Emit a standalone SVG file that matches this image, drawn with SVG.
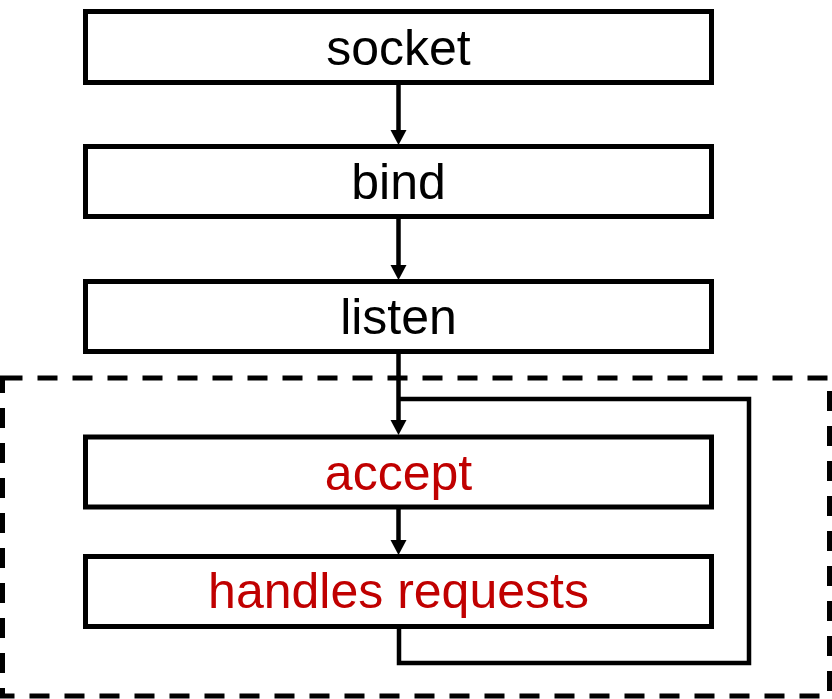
<svg xmlns="http://www.w3.org/2000/svg" width="832" height="699" viewBox="0 0 832 699">
<style>
.box{fill:#fff;stroke:#000;stroke-width:5}
.lbl{font-family:"Liberation Sans",Arial,sans-serif;font-size:50px;text-anchor:middle;fill:#000}
.red{fill:#C00000}
.ln{fill:none;stroke:#000;stroke-width:4.5}
.hd{fill:#000;stroke:none}
.dash{fill:none;stroke:#000;stroke-width:5;stroke-dasharray:20 15}
</style>
<rect class="dash" x="2.5" y="378" width="827" height="318"/>
<g id="connectors">
<line class="ln" x1="398.5" y1="82.5" x2="398.5" y2="132"/>
<polygon class="hd" points="390.5,130 406.5,130 398.5,145"/>
<line class="ln" x1="398.5" y1="216" x2="398.5" y2="267"/>
<polygon class="hd" points="390.5,265 406.5,265 398.5,280"/>
<line class="ln" x1="398.5" y1="352" x2="398.5" y2="422"/>
<polygon class="hd" points="390.5,420 406.5,420 398.5,435"/>
<line class="ln" x1="398.5" y1="507" x2="398.5" y2="542"/>
<polygon class="hd" points="390.5,540 406.5,540 398.5,555"/>
<polyline class="ln" points="399,626 399,663 749,663 749,399 398.5,399"/>
</g>
<g id="socket"><rect class="box" x="85.5" y="11.5" width="626" height="71"/><text class="lbl" x="398.5" y="65">socket</text></g>
<g id="bind"><rect class="box" x="85.5" y="146.5" width="626" height="70"/><text class="lbl" x="398.5" y="199">bind</text></g>
<g id="listen"><rect class="box" x="85.5" y="281.5" width="626" height="70"/><text class="lbl" x="398.5" y="334">listen</text></g>
<g id="accept"><rect class="box" x="85.5" y="437" width="626" height="70"/><text class="lbl red" x="398.5" y="490">accept</text></g>
<g id="handles"><rect class="box" x="85.5" y="556.5" width="626" height="70"/><text class="lbl red" x="398.5" y="608">handles requests</text></g>
</svg>
